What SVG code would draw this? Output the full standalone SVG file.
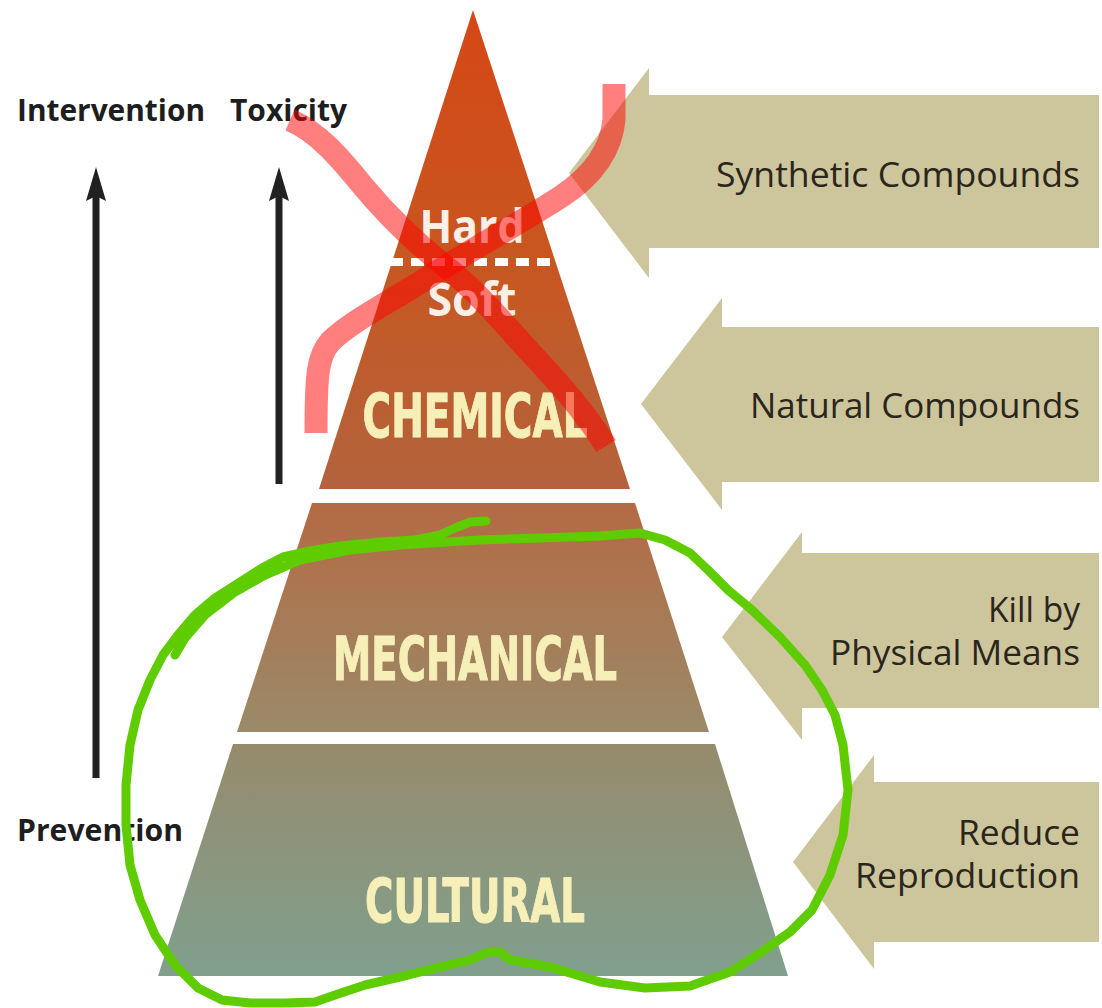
<svg xmlns="http://www.w3.org/2000/svg" width="1102" height="1008" viewBox="0 0 1102 1008">
  <defs>
    <linearGradient id="gChem" gradientUnits="userSpaceOnUse" x1="0" y1="10" x2="0" y2="489">
      <stop offset="0" stop-color="#d44716"/>
      <stop offset="0.5" stop-color="#c9561f"/>
      <stop offset="1" stop-color="#b3633d"/>
    </linearGradient>
    <linearGradient id="gMech" gradientUnits="userSpaceOnUse" x1="0" y1="503" x2="0" y2="732">
      <stop offset="0" stop-color="#b46a43"/>
      <stop offset="1" stop-color="#9a8a69"/>
    </linearGradient>
    <linearGradient id="gCult" gradientUnits="userSpaceOnUse" x1="0" y1="744" x2="0" y2="976">
      <stop offset="0" stop-color="#968b6c"/>
      <stop offset="1" stop-color="#80a08e"/>
    </linearGradient>
    <style>
      .lbl { font-family: "Open Sans", "Liberation Sans", sans-serif; font-weight: 700; font-size: 30px; fill: #1e1e1e; }
      .side { font-family: "Open Sans", "Liberation Sans", sans-serif; font-size: 34px; fill: #2a261c; text-anchor: end; }
      .tier { font-family: "DejaVu Sans", "Liberation Sans", sans-serif; font-weight: 700; font-stretch: condensed; font-size: 60px; fill: #f6f0b8; stroke: #f6f0b8; stroke-width: 1; text-anchor: middle; }
      .hs { font-family: "Open Sans", "Liberation Sans", sans-serif; font-weight: 700; font-size: 46px; fill: #fbefe8; text-anchor: middle; }
      .tan { fill: #cdc59b; }
      .blk { stroke: #222222; stroke-width: 7; fill: none; }
      .head { fill: #222222; }
      .redx { fill: none; stroke: #ff0000; stroke-opacity: 0.5; stroke-width: 23; stroke-linecap: butt; stroke-linejoin: round; }
      .green { fill: none; stroke: #5fcc00; stroke-width: 9; stroke-linecap: round; stroke-linejoin: round; }
    </style>
  </defs>
  <rect width="1102" height="1008" fill="#ffffff"/>

  <!-- right-hand arrows -->
  <g id="arrow-synthetic">
    <polygon class="tan" points="1099,95 649,95 649,68 569,173 649,278 649,248 1099,248"/>
    <text class="side" x="1080" y="187" textLength="364" lengthAdjust="spacingAndGlyphs">Synthetic Compounds</text>
  </g>
  <g id="arrow-natural">
    <polygon class="tan" points="1099,327 722,327 722,298 641,404 722,510 722,482 1099,482"/>
    <text class="side" x="1080" y="418" textLength="330" lengthAdjust="spacingAndGlyphs">Natural Compounds</text>
  </g>
  <g id="arrow-kill">
    <polygon class="tan" points="1099,553 802,553 802,532 722,637 802,740 802,708 1099,708"/>
    <text class="side" x="1080" y="622" textLength="92" lengthAdjust="spacingAndGlyphs">Kill by</text>
    <text class="side" x="1080" y="665" textLength="250" lengthAdjust="spacingAndGlyphs">Physical Means</text>
  </g>
  <g id="arrow-reduce">
    <polygon class="tan" points="1099,782 874,782 874,755 793,862 874,969 874,942 1099,942"/>
    <text class="side" x="1080" y="845" textLength="122" lengthAdjust="spacingAndGlyphs">Reduce</text>
    <text class="side" x="1080" y="888" textLength="225" lengthAdjust="spacingAndGlyphs">Reproduction</text>
  </g>

  <!-- pyramid tiers -->
  <g id="tier-chemical">
    <polygon points="473,10 630,489 319,489" fill="url(#gChem)"/>
    <line x1="390" y1="262" x2="557" y2="262" stroke="#ffffff" stroke-width="8" stroke-dasharray="13 8"/>
    <text class="hs" x="472" y="243" textLength="105" lengthAdjust="spacingAndGlyphs">Hard</text>
    <text class="hs" x="472" y="316" textLength="89" lengthAdjust="spacingAndGlyphs">Soft</text>
    <text class="tier" x="475" y="437" textLength="225" lengthAdjust="spacingAndGlyphs">CHEMICAL</text>
  </g>
  <g id="tier-mechanical">
    <polygon points="312,503 635,503 709,732 237,732" fill="url(#gMech)"/>
    <text class="tier" x="475" y="680" textLength="284" lengthAdjust="spacingAndGlyphs">MECHANICAL</text>
  </g>
  <g id="tier-cultural">
    <polygon points="233,744 715,744 788,976 158,976" fill="url(#gCult)"/>
    <text class="tier" x="475" y="922" textLength="220" lengthAdjust="spacingAndGlyphs">CULTURAL</text>
  </g>

  <!-- left labels -->
  <g id="label-intervention"><text class="lbl" x="17" y="121" textLength="188" lengthAdjust="spacingAndGlyphs">Intervention</text></g>
  <g id="label-toxicity"><text class="lbl" x="230" y="121" textLength="117" lengthAdjust="spacingAndGlyphs">Toxicity</text></g>
  <g id="label-prevention"><text class="lbl" x="17" y="841" textLength="166" lengthAdjust="spacingAndGlyphs">Prevention</text></g>

  <!-- connectors: vertical arrows -->
  <g id="connectors">
    <line class="blk" x1="96" y1="192" x2="96" y2="778"/>
    <path class="head" d="M96,167 L106,201 L96,196 L86,201 Z"/>
    <line class="blk" x1="279" y1="192" x2="279" y2="484"/>
    <path class="head" d="M279,167 L289,201 L279,196 L269,201 Z"/>
  </g>

  <!-- red cross annotation -->
  <g id="annotation-cross">
    <path class="redx" d="M290,120 C318,132 340,158 362,185 C386,214 412,240 445,266 C478,292 505,325 530,352 C558,382 585,412 606,446"/>
    <path class="redx" d="M614,84 L614,120 C611,150 592,176 562,196 C522,222 470,250 424,280 C388,303 350,322 330,342 C318,356 316,372 316,433"/>
  </g>

  <!-- green loop annotation -->
  <g id="annotation-loop">
    <path class="green" d="M486,521 L470,522 L455,528 L440,535 L415,540 L380,542 L340,546 L310,551 L283,557 L262,568 L240,582 L215,598 L195,615 L178,635 L163,655 L150,680 L138,710 L130,745 L126,785 L126,825 L130,865 L140,900 L155,935 L175,965 L198,988 L222,1000 L250,1003 L285,1003 L315,1002 L335,995 L365,985 L400,977 L440,967 L470,960 L488,952 L500,952 L510,960 L550,967 L600,982 L645,988 L690,986 L730,972 L760,953 L790,932 L812,910 L830,875 L843,835 L848,790 L843,745 L835,715 L822,690 L805,665 L780,637 L752,610 L728,590 L708,570 L690,553 L665,540 L640,533 L600,536 L540,538 L480,540 L430,543 L400,545 L350,550 L300,560 L265,575 L235,592 L205,615 L185,638 L175,655"/>
  </g>
</svg>
